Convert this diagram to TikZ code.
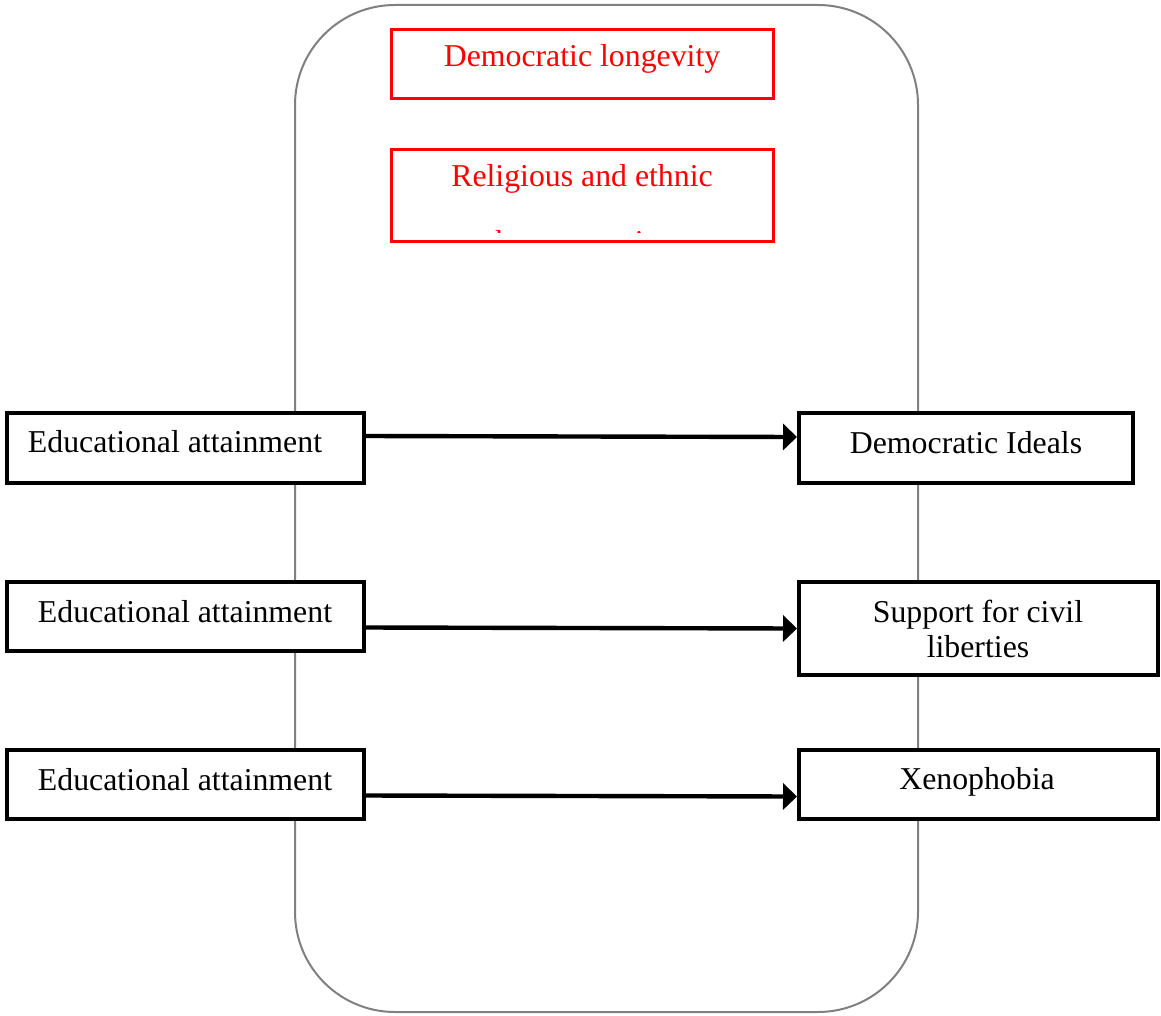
\documentclass[tikz,border=0pt]{standalone}
\usepackage{fontspec}
\setmainfont{Liberation Serif}
\usetikzlibrary{arrows.meta}
\definecolor{framegray}{RGB}{128,128,128}
\definecolor{redbox}{RGB}{255,0,0}
\begin{document}
\begin{tikzpicture}[x=0.5pt,y=-0.5pt,
  blackbox/.style={draw=black,fill=white,line width=2.3pt,inner sep=0pt,outer sep=0pt,rectangle},
  redframe/.style={draw=redbox,fill=white,line width=1.5pt,inner sep=0pt,outer sep=0pt,rectangle},
  txt/.style={font=\fontsize{15.9}{17.5}\selectfont,inner sep=0pt,anchor=base},
  redtxt/.style={txt,text=redbox},
  arr/.style={line width=2.2pt,-{Triangle[length=7pt,width=13pt]}}]
\useasboundingbox (0,0) rectangle (1161,1016);
% frame
\draw[framegray,line width=1pt,rounded corners=50pt] (295,5) rectangle (918,1012);
% red boxes
\node[redframe,minimum width=191pt,minimum height=34.5pt] (r1) at (582.5,64) {};
\node[redtxt] (r1t) at (582,67) {Democratic longevity};
\node[redframe,minimum width=191pt,minimum height=46pt] (r2) at (582.5,195.5) {};
\begin{scope}
\clip (393,151) rectangle (772,232.5);
\node[redtxt] (r2t) at (582,187) {Religious and ethnic};
\node[redtxt] (r2u) at (582,252.5) {heterogeneity};
\end{scope}
% left boxes
\node[blackbox,minimum width=178.5pt,minimum height=35pt] (e1) at (185.5,448) {};
\node[blackbox,minimum width=178.5pt,minimum height=34.5pt] (e2) at (185.5,616.5) {};
\node[blackbox,minimum width=178.5pt,minimum height=34.5pt] (e3) at (185.5,784.5) {};
\node[txt] (e1t) at (175,452) {Educational attainment};
\node[txt] (e2t) at (185,622) {Educational attainment};
\node[txt] (e3t) at (185,790) {Educational attainment};
% right boxes
\node[blackbox,minimum width=167pt,minimum height=35pt] (d1) at (966,448) {};
\node[blackbox,minimum width=179.5pt,minimum height=46.5pt] (d2) at (978.5,628.5) {};
\node[blackbox,minimum width=179.5pt,minimum height=34.5pt] (d3) at (978.5,784.5) {};
\node[txt] (d1t) at (966,453) {Democratic Ideals};
\node[txt] (d2t) at (978,622) {Support for civil};
\node[txt] (d2u) at (978,657) {liberties};
\node[txt] (d3t) at (977,789) {Xenophobia};
% arrows
\draw[arr] ([yshift=6pt]e1.east) -- ([yshift=5.5pt,xshift=-1pt]d1.west);
\draw[arr] ([yshift=-5.5pt]e2.east) -- ([yshift=-6pt,xshift=-1pt]e2.east -| d2.west);
\draw[arr] ([yshift=-5.5pt]e3.east) -- ([yshift=-6pt,xshift=-1pt]d3.west);
\end{tikzpicture}
\end{document}
